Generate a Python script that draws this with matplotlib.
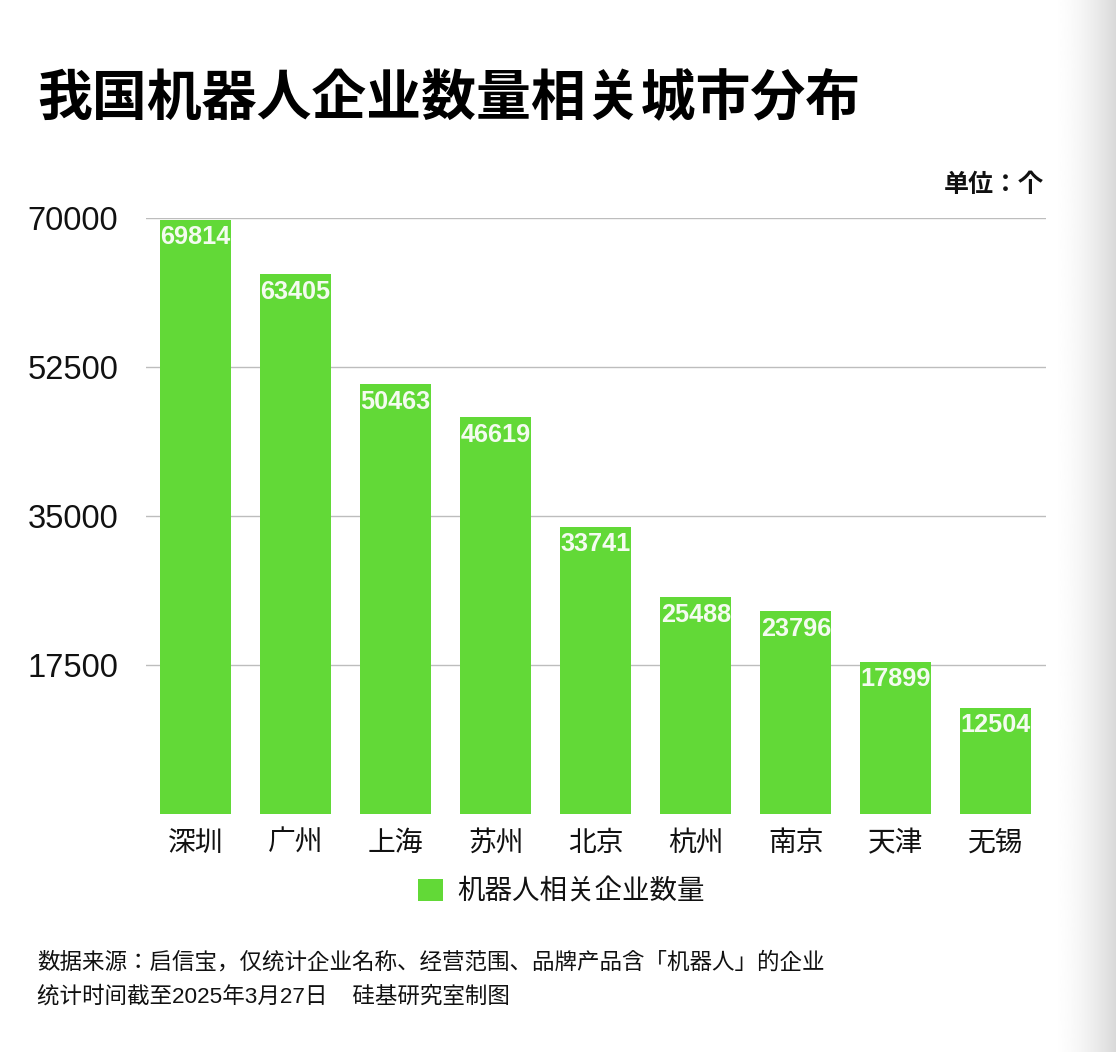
import matplotlib
matplotlib.use("Agg")
import matplotlib.pyplot as plt
import numpy as np

CJK = 'Noto Sans CJK JP'
LATIN = 'Liberation Sans'
plt.rcParams['font.family'] = [LATIN, CJK]

cities = ["深圳", "广州", "上海", "苏州", "北京", "杭州", "南京", "天津", "无锡"]
counts = [69814, 63405, 50463, 46619, 33741, 25488, 23796, 17899, 12504]
y_ticks = [17500, 35000, 52500, 70000]
series_name = "机器人相关企业数量"
title = "我国机器人企业数量相关城市分布"
unit = "单位：个"
note_1 = "数据来源：启信宝，仅统计企业名称、经营范围、品牌产品含「机器人」的企业"
note_2 = "统计时间截至2025年3月27日    硅基研究室制图"

W, H = 1116, 1052
GREEN = '#62d937'


def fx(px):
    return px / W


def fy(py):
    return 1 - py / H


fig = plt.figure(figsize=(W / 100, H / 100), dpi=100, facecolor='white')

# grey shade down the right edge of the screenshot
shade = fig.add_axes([fx(1050), 0, fx(66), 1])
ramp = np.linspace(0.0, 1.0, 200)[None, :] ** 1.8
shade.imshow(1 - 0.15 * ramp, cmap='gray', vmin=0, vmax=1, aspect='auto')
shade.axis('off')

ax = fig.add_axes([fx(145.5), fy(814), fx(900.5), fy(218) - fy(814)])
ax.patch.set_alpha(0)
bars = ax.bar(cities, counts, width=0.71, color=GREEN, label=series_name, zorder=2)
ax.set_xlim(-0.5, 8.5)
ax.set_ylim(0, 70000)
ax.set_yticks(y_ticks)
ax.set_yticklabels([str(v) for v in y_ticks])
ax.grid(axis='y', color='#bdbdbd', linewidth=1.0, zorder=1)
ax.set_axisbelow(True)
for side in ax.spines:
    ax.spines[side].set_visible(False)
ax.tick_params(axis='y', length=0, pad=19.5, labelsize=23.5, labelcolor='#111111')
ax.tick_params(axis='x', length=0, pad=12, labelsize=20, labelcolor='#111111')

for rect, v in zip(bars, counts):
    ax.annotate(str(v), (rect.get_x() + rect.get_width() / 2, v), xytext=(0, -4),
                textcoords='offset points', ha='center', va='top',
                color='#f4fbf0', fontsize=18.2, fontweight='bold', zorder=3)

fig.text(fx(37), fy(101), title, fontsize=39.5, fontweight='bold', color='black', va='center', ha='left')
fig.text(fx(1044), fy(185), unit, fontsize=18, fontweight='bold', color='#111111', va='center', ha='right')

# legend under the axis
fig.legend(handles=[bars], labels=[series_name], loc='center left',
           bbox_to_anchor=(fx(393), fy(892)), frameon=False, fontsize=19.8,
           handlelength=0.9, handleheight=0.9, handletextpad=0.55, labelcolor='#111111')

fig.text(fx(37), fy(963), note_1, fontsize=16.2, color='#111111', va='center', ha='left')
fig.text(fx(37), fy(997), note_2, fontsize=16.2, color='#111111', va='center', ha='left')

plt.savefig('out.png', dpi=100)
